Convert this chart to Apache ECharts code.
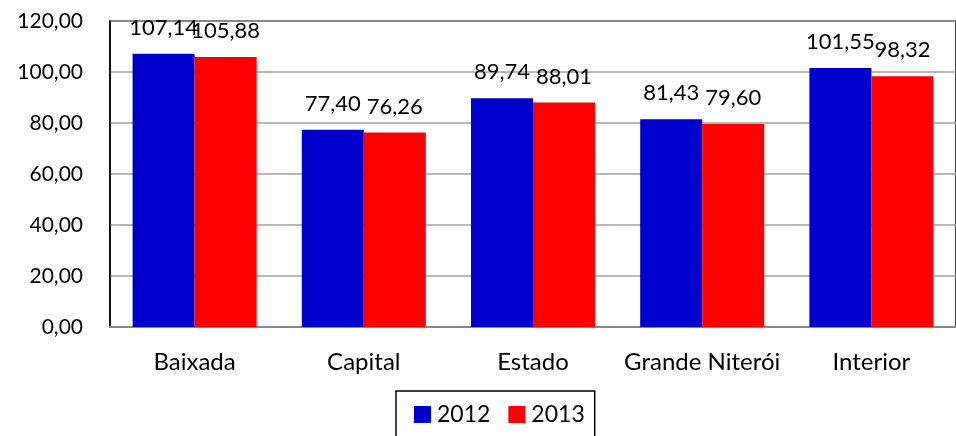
<!DOCTYPE html>
<html>
<head>
<meta charset="utf-8">
<script src="https://cdn.jsdelivr.net/npm/echarts@6/dist/echarts.min.js"></script>
<style>html,body{margin:0;padding:0;background:#fff}#c{width:956px;height:436px}</style>
</head>
<body>
<div id="c"></div>
<script>
const categories = ['Baixada', 'Capital', 'Estado', 'Grande Niterói', 'Interior'];
const values2012 = [107.14, 77.40, 89.74, 81.43, 101.55];
const values2013 = [105.88, 76.26, 88.01, 79.60, 98.32];
const seriesNames = ['2012', '2013'];

const fmt = v => Number(v).toFixed(2).replace('.', ',');
const FONT = 'Lato';
const chart = echarts.init(document.getElementById('c'));
const labelCfg = {
  show: true, position: 'top', distance: 15, color: '#000',
  fontFamily: FONT, fontSize: 22, formatter: p => fmt(p.value)
};
chart.setOption({
  animation: false,
  textStyle: { fontFamily: FONT },
  grid: { left: 110, right: -14, top: 21, bottom: 109, show: true, borderColor: '#000', borderWidth: 1.5, backgroundColor: 'transparent' },
  legend: {
    data: seriesNames, bottom: -30, left: 396,
    borderColor: '#000', borderWidth: 1.5,
    padding: [12, 10, 40, 18],
    itemWidth: 17, itemHeight: 17, itemGap: 18,
    icon: 'rect',
    textStyle: { fontFamily: FONT, fontSize: 23, color: '#000', padding: [0, 0, 0, 1] }
  },
  xAxis: {
    type: 'category', data: categories,
    axisLine: { lineStyle: { color: '#888', width: 2 } },
    axisTick: { show: false },
    axisLabel: { interval: 0, color: '#000', fontFamily: FONT, fontSize: 24, margin: 23 }
  },
  yAxis: {
    type: 'value', min: 0, max: 120, interval: 20,
    axisLine: { show: true, lineStyle: { color: '#000', width: 1.5 } },
    axisTick: { show: false },
    splitLine: { lineStyle: { color: '#A0A0A0', width: 1.5 } },
    axisLabel: { color: '#000', fontFamily: FONT, fontSize: 21, margin: 27, formatter: v => fmt(v) }
  },
  series: [
    { name: seriesNames[0], type: 'bar', data: values2012, itemStyle: { color: '#0000CC' }, barGap: '0%', barCategoryGap: '26.7%', label: labelCfg },
    { name: seriesNames[1], type: 'bar', data: values2013, itemStyle: { color: '#FF0000' }, barGap: '0%', barCategoryGap: '26.7%', label: labelCfg }
  ]
});
</script>
</body>
</html>
